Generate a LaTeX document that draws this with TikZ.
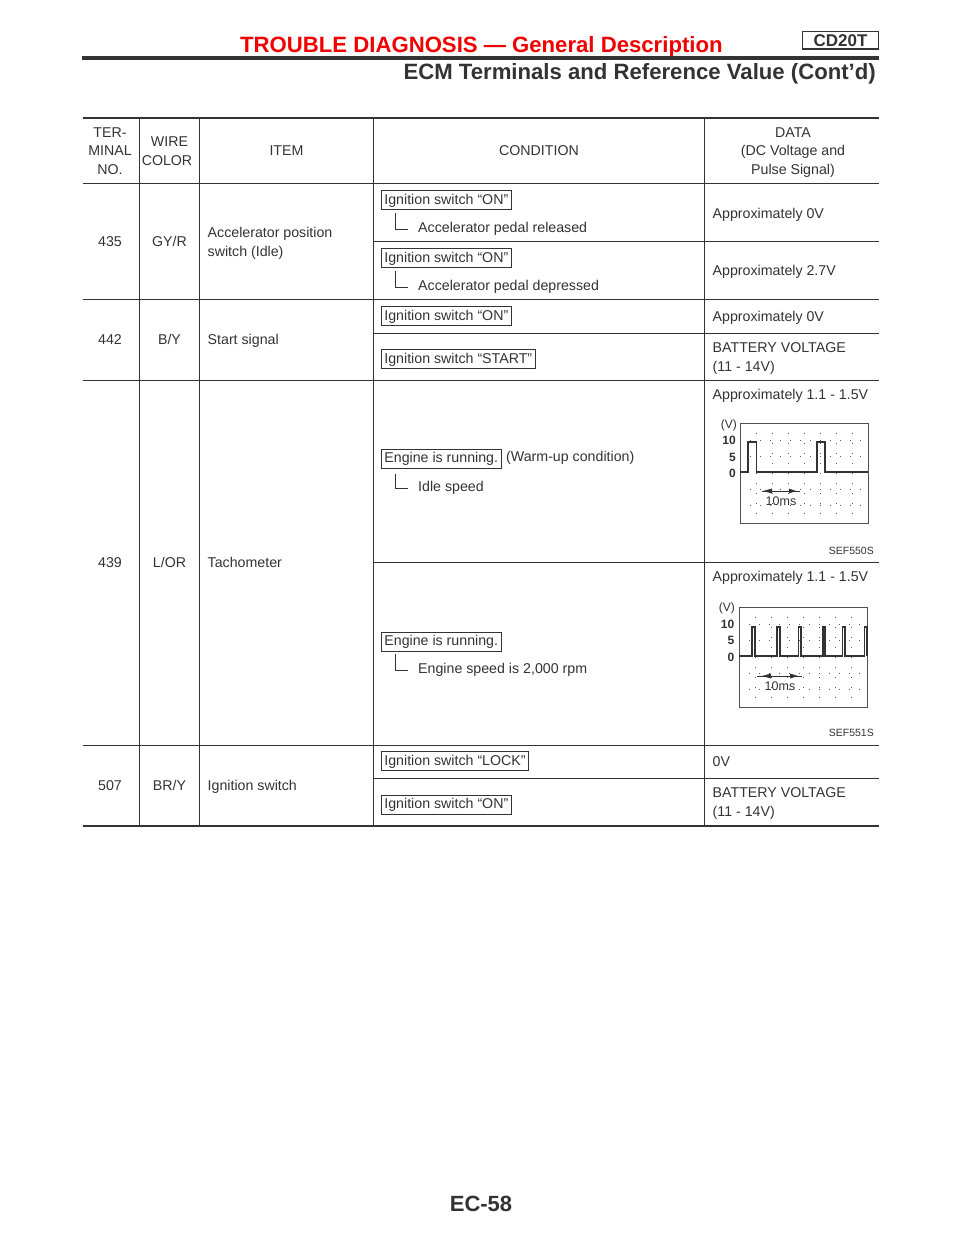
\documentclass[tikz,border=0pt]{standalone}
\usepackage{fontspec}
\setmainfont{Liberation Sans}
\usepackage{tikz}
\definecolor{inkGray}{HTML}{333333}
\definecolor{headRed}{HTML}{F00000}
\tikzset{Cell/.style={%
    anchor=base west,%
    inner sep=0pt,%
    text=inkGray,%
    font=\fontsize{14.2}{17}\selectfont,%
}}
\tikzset{Mid/.style={%
    Cell,%
    anchor=base,%
}}
\tikzset{SwitchBox/.style={%
    Cell,%
    draw=inkGray,%
    line width=0.8pt,%
    inner xsep=3pt,%
    inner ysep=2.5pt,%
    text height=11pt,%
    text depth=3pt,%
}}
\tikzset{Rule/.style={%
    draw=inkGray,%
    line width=1pt,%
}}
\tikzset{HeavyRule/.style={%
    draw=inkGray,%
    line width=2.6pt,%
}}
\tikzset{Elbow/.style={%
    draw=inkGray,%
    line width=0.8pt,%
}}
\tikzset{ScopeDot/.style={%
    draw=inkGray!80,%
    line width=0.9pt,%
    dash pattern=on 1pt off 9pt,%
}}
\tikzset{ScopeTick/.style={%
    inner sep=0pt,%
    anchor=base east,%
    text=inkGray,%
    font=\fontsize{12}{14}\selectfont\bfseries,%
}}
\NewDocumentCommand{\scopeFrame}{m m}{%
    \foreach \gx in {16,32.5,48.5,64.5,80,96,112.5}{%
        \draw[ScopeDot] (#1+\gx,#2) -- (#1+\gx,#2+100);%
    }%
    \foreach \gy in {17,33.5,66,82.5}{%
        \draw[ScopeDot] (#1,#2+\gy) -- (#1+128,#2+\gy);%
    }%
    \draw[draw=inkGray!85, line width=0.9pt] (#1,#2) rectangle (#1+128,#2+100);%
}
\begin{document}
\begin{tikzpicture}[x=1pt, y=-1pt]
    \useasboundingbox (0,0) rectangle (960,1242);
    \fill[white] (0,0) rectangle (960,1242);

    % page head
    \node[Cell, text=headRed, font=\fontsize{22.15}{26}\selectfont\bfseries] (titleTop) at (240,52) {TROUBLE DIAGNOSIS — General Description};
    \node[Cell, anchor=base east, font=\fontsize{22.15}{26}\selectfont\bfseries] (titleSub) at (876,79.5) {ECM Terminals and Reference Value (Cont’d)};
    \node[Mid, draw=inkGray, line width=1.2pt, minimum width=76pt, font=\fontsize{17}{20}\selectfont\bfseries, inner ysep=2pt, text height=12.5pt, text depth=1pt] (engineTag) at (840.5,46) {CD20T};
    \draw[HeavyRule, line width=3.4pt] (82,58) -- (879,58);

    % table rules
    \draw[HeavyRule] (83,118) -- (879,118);
    \draw[HeavyRule] (83,826) -- (879,826);
    \foreach \colX in {139,199,373,704}{
        \draw[Rule] (\colX,118) -- (\colX,826);
    }
    \foreach \rowY in {183,299,380,745}{
        \draw[Rule] (83,\rowY) -- (879,\rowY);
    }
    \foreach \rowY in {241,333,562,778}{
        \draw[Rule] (373,\rowY) -- (879,\rowY);
    }

    % header
    \node[Mid] (hTer) at (110,137) {TER-};
    \node[Mid] (hMinal) at (110,155) {MINAL};
    \node[Mid] (hNo) at (110,174) {NO.};
    \node[Mid] (hWire) at (169.5,146) {WIRE};
    \node[Mid] (hColor) at (167,165) {COLOR};
    \node[Mid] (hItem) at (286.5,155) {ITEM};
    \node[Mid] (hCond) at (539,155) {CONDITION};
    \node[Mid] (hData) at (793,137) {DATA};
    \node[Mid] (hDc) at (793,155) {(DC Voltage and};
    \node[Mid] (hPulse) at (793,174) {Pulse Signal)};

    % terminal 435
    \node[Mid] (t435) at (110,246) {435};
    \node[Mid] (c435) at (169.5,246) {GY/R};
    \node[Cell] (i435a) at (207.5,237) {Accelerator position};
    \node[Cell] (i435b) at (207.5,256) {switch (Idle)};
    \node[SwitchBox] (b435a) at (381,204) {Ignition switch “ON”};
    \node[Cell] (s435a) at (418,232) {Accelerator pedal released};
    \node[Cell] (d435a) at (712.5,218) {Approximately 0V};
    \node[SwitchBox] (b435b) at (381,262) {Ignition switch “ON”};
    \node[Cell] (s435b) at (418,290) {Accelerator pedal depressed};
    \node[Cell] (d435b) at (712.5,275) {Approximately 2.7V};
    \draw[Elbow] ([xshift=14pt,yshift=-3pt]b435a.south west) |- ([xshift=-10pt,yshift=3pt]s435a.base west);
    \draw[Elbow] ([xshift=14pt,yshift=-3pt]b435b.south west) |- ([xshift=-10pt,yshift=3pt]s435b.base west);

    % terminal 442
    \node[Mid] (t442) at (110,344) {442};
    \node[Mid] (c442) at (169.5,344) {B/Y};
    \node[Cell] (i442) at (207.5,344) {Start signal};
    \node[SwitchBox] (b442a) at (381,320) {Ignition switch “ON”};
    \node[Cell] (d442a) at (712.5,321) {Approximately 0V};
    \node[SwitchBox] (b442b) at (381,363) {Ignition switch “START”};
    \node[Cell] (d442b) at (712.5,352) {BATTERY VOLTAGE};
    \node[Cell] (d442c) at (712.5,371) {(11 - 14V)};

    % terminal 439
    \node[Mid] (t439) at (110,567) {439};
    \node[Mid] (c439) at (169.5,567) {L/OR};
    \node[Cell] (i439) at (207.5,567) {Tachometer};
    \node[SwitchBox] (b439a) at (381,462.5) {Engine is running.};
    \node[Cell] (w439) at (506,461) {(Warm-up condition)};
    \node[Cell] (s439a) at (418,491) {Idle speed};
    \node[Cell] (d439a) at (712.5,399) {Approximately 1.1 - 1.5V};
    \node[SwitchBox] (b439b) at (381,645.5) {Engine is running.};
    \node[Cell] (s439b) at (418,673) {Engine speed is 2,000 rpm};
    \node[Cell] (d439b) at (712.5,581) {Approximately 1.1 - 1.5V};
    \draw[Elbow] ([xshift=14pt,yshift=-6pt]b439a.south west) |- ([xshift=-10pt,yshift=3pt]s439a.base west);
    \draw[Elbow] ([xshift=14pt,yshift=-3pt]b439b.south west) |- ([xshift=-10pt,yshift=3pt]s439b.base west);

    % first waveform
    \scopeFrame{740}{423}
    \draw[draw=inkGray, line width=1.3pt] (740,472) -- (748,472) -- (748,442) -- (756.5,442) -- (756.5,472) -- (817,472) -- (817,442) -- (825,442) -- (825,472) -- (868,472);
    \node[ScopeTick, font=\fontsize{12}{14}\selectfont] (v550) at (737,428) {(V)};
    \node[ScopeTick] (y550a) at (736,444) {10};
    \node[ScopeTick] (y550b) at (736,461) {5};
    \node[ScopeTick] (y550c) at (736,477) {0};
    \coordinate (a550l) at (762,491);
    \coordinate (a550r) at (800,491);
    \draw[draw=inkGray, line width=0.8pt] (a550l) -- (a550r);
    \fill[inkGray] (763,491) -- (772,488.5) -- (772,493.5) -- cycle;
    \fill[inkGray] (796,491) -- (789,488.5) -- (789,493.5) -- cycle;
    \node[Mid, font=\fontsize{12.5}{15}\selectfont] (l550) at (781,505.5) {10ms};
    \node[Cell, anchor=base east, font=\fontsize{10.5}{12}\selectfont] (n550) at (874,554.5) {SEF550S};

    % second waveform
    \scopeFrame{739}{607}
    \draw[draw=inkGray, line width=1.3pt] (739,656) -- (752,656) -- (752,627) -- (755,627) -- (755,656)
        -- (777,656) -- (777,627) -- (780,627) -- (780,656)
        -- (798.5,656) -- (798.5,627) -- (801,627) -- (801,656)
        -- (823,656) -- (823,627) -- (825,627) -- (825,656)
        -- (842.5,656) -- (842.5,627) -- (845,627) -- (845,656)
        -- (864.5,656) -- (864.5,627) -- (867,627) -- (867,656);
    \node[ScopeTick, font=\fontsize{12}{14}\selectfont] (v551) at (735,611) {(V)};
    \node[ScopeTick] (y551a) at (734.5,628) {10};
    \node[ScopeTick] (y551b) at (734.5,644) {5};
    \node[ScopeTick] (y551c) at (734.5,661) {0};
    \coordinate (a551l) at (757,676);
    \coordinate (a551r) at (802,676);
    \draw[draw=inkGray, line width=0.8pt] (a551l) -- (a551r);
    \fill[inkGray] (762,676) -- (771,673.5) -- (771,678.5) -- cycle;
    \fill[inkGray] (798,676) -- (790,673.5) -- (790,678.5) -- cycle;
    \node[Mid, font=\fontsize{12.5}{15}\selectfont] (l551) at (780,690) {10ms};
    \node[Cell, anchor=base east, font=\fontsize{10.5}{12}\selectfont] (n551) at (874,736.5) {SEF551S};

    % terminal 507
    \node[Mid] (t507) at (110,790) {507};
    \node[Mid] (c507) at (169.5,790) {BR/Y};
    \node[Cell] (i507) at (207.5,790) {Ignition switch};
    \node[SwitchBox] (b507a) at (381,765) {Ignition switch “LOCK”};
    \node[Cell] (d507a) at (712.5,766) {0V};
    \node[SwitchBox] (b507b) at (381,808.5) {Ignition switch “ON”};
    \node[Cell] (d507b) at (712.5,797) {BATTERY VOLTAGE};
    \node[Cell] (d507c) at (712.5,816) {(11 - 14V)};

    % page foot
    \node[Mid, font=\fontsize{22}{26}\selectfont\bfseries] (pageNo) at (481,1211) {EC-58};
\end{tikzpicture}
\end{document}
